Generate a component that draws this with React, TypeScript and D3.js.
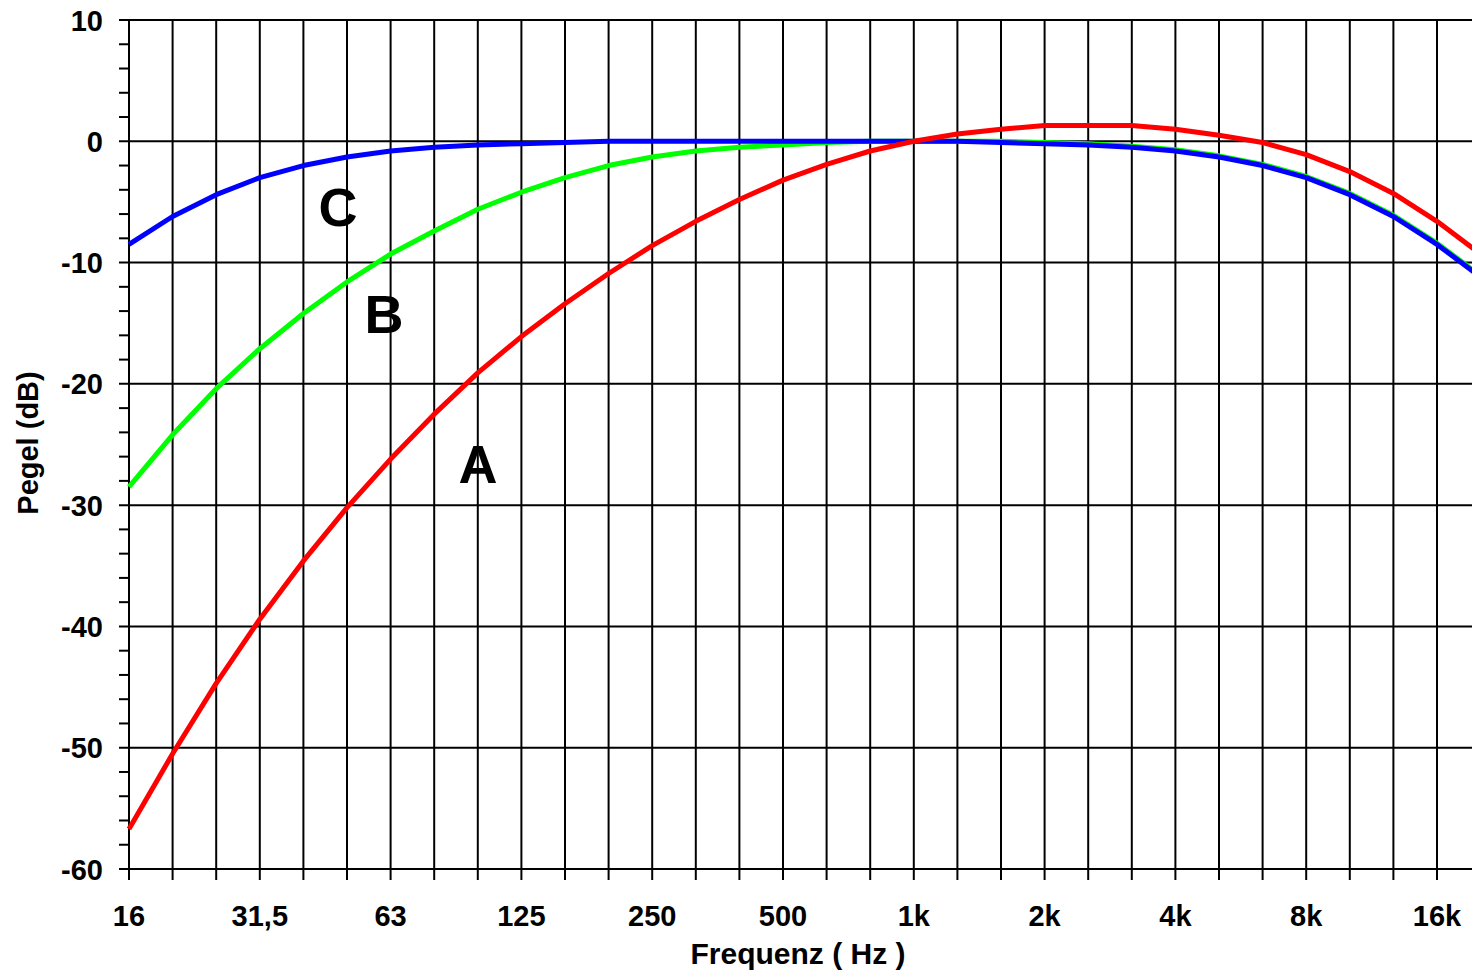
import React, { useEffect, useRef } from 'react'
import * as d3 from 'd3'

// third-octave bands, 16 Hz .. 20 kHz
const bands = [
  '16', '20', '25', '31,5', '40', '50', '63', '80', '100', '125', '160',
  '200', '250', '315', '400', '500', '630', '800', '1k', '1,25k', '1,6k',
  '2k', '2,5k', '3,15k', '4k', '5k', '6,3k', '8k', '10k', '12,5k', '16k', '20k',
]
const bandTicks = ['16', '31,5', '63', '125', '250', '500', '1k', '2k', '4k', '8k', '16k']

// weighting curves (dB)
const aCurve = [
  -56.7, -50.5, -44.7, -39.4, -34.6, -30.2, -26.2, -22.5, -19.1, -16.1, -13.4,
  -10.9, -8.6, -6.6, -4.8, -3.2, -1.9, -0.8, 0, 0.6, 1.0,
  1.3, 1.3, 1.3, 1.0, 0.5, -0.1, -1.1, -2.5, -4.3, -6.6, -9.3,
]
const bCurve = [
  -28.5, -24.2, -20.4, -17.1, -14.2, -11.6, -9.3, -7.4, -5.6, -4.2, -3.0,
  -2.0, -1.3, -0.8, -0.5, -0.3, -0.1, 0, 0, 0, 0,
  -0.1, -0.2, -0.4, -0.7, -1.2, -1.9, -2.9, -4.3, -6.1, -8.4, -11.1,
]
const cCurve = [
  -8.5, -6.2, -4.4, -3.0, -2.0, -1.3, -0.8, -0.5, -0.3, -0.2, -0.1,
  0, 0, 0, 0, 0, 0, 0, 0, 0, -0.1,
  -0.2, -0.3, -0.5, -0.8, -1.3, -2.0, -3.0, -4.4, -6.2, -8.5, -11.2,
]
const yTicks = [10, 0, -10, -20, -30, -40, -50, -60]

const W = 1472
const H = 974

export default function App() {
  const ref = useRef<SVGSVGElement>(null)

  useEffect(() => {
    const svg = d3.select(ref.current)
    svg.selectAll('*').remove()

    const x = d3.scaleLinear().domain([0, 30]).range([129, 1437])
    const y = d3.scaleLinear().domain([-60, 10]).range([869, 20])
    const font = '"Liberation Sans", Arial, sans-serif'

    // grid
    const grid = svg.append('g').attr('stroke', '#000').attr('stroke-width', 2)
    bands.forEach((b, i) => {
      grid.append('line')
        .attr('x1', x(i)).attr('x2', x(i))
        .attr('y1', y(10)).attr('y2', y(-60) + 11)
    })
    yTicks.forEach(t => {
      grid.append('line')
        .attr('x1', x(0) - 10).attr('x2', W)
        .attr('y1', y(t)).attr('y2', y(t))
    })
    d3.range(-60, 10, 2).filter(t => t % 10 !== 0).forEach(t => {
      grid.append('line')
        .attr('x1', x(0) - 10).attr('x2', x(0))
        .attr('y1', y(t)).attr('y2', y(t))
    })

    // curves
    const line = d3.line<number>().x((d, i) => x(i)).y(d => y(d))
    const curves: [number[], string][] = [[bCurve, '#00ff00'], [cCurve, '#0000ff'], [aCurve, '#ff0000']]
    curves.forEach(([data, color]) => {
      svg.append('path').attr('d', line(data))
        .attr('fill', 'none')
        .attr('stroke', color)
        .attr('stroke-width', 5)
        .attr('stroke-linejoin', 'round')
    })

    // tick labels
    svg.append('g').selectAll('text').data(yTicks).enter().append('text')
      .attr('x', 103).attr('y', d => y(d) + 10.5)
      .attr('text-anchor', 'end')
      .attr('font-family', font).attr('font-weight', 'bold').attr('font-size', 29)
      .text(d => d)

    svg.append('g').selectAll('text').data(bandTicks).enter().append('text')
      .attr('x', d => x(bands.indexOf(d))).attr('y', 926)
      .attr('text-anchor', 'middle')
      .attr('font-family', font).attr('font-weight', 'bold').attr('font-size', 29)
      .text(d => d)

    // axis titles
    svg.append('text')
      .attr('x', 798).attr('y', 964)
      .attr('text-anchor', 'middle')
      .attr('font-family', font).attr('font-weight', 'bold').attr('font-size', 30)
      .text('Frequenz ( Hz )')

    svg.append('text')
      .attr('transform', 'translate(38,443) rotate(-90)')
      .attr('text-anchor', 'middle')
      .attr('font-family', font).attr('font-weight', 'bold').attr('font-size', 29)
      .text('Pegel (dB)')

    // curve names
    const names: [string, number, number][] = [['C', 338, 226], ['B', 384, 333], ['A', 478, 483]]
    names.forEach(([n, cx, cy]) => {
      svg.append('text')
        .attr('x', cx).attr('y', cy)
        .attr('text-anchor', 'middle')
        .attr('font-family', font).attr('font-weight', 'bold').attr('font-size', 54)
        .text(n)
    })
  }, [])

  return (
    <svg ref={ref} width={W} height={H}
      style={{ position: 'absolute', left: 0, top: 0, background: '#fff' }} />
  )
}
